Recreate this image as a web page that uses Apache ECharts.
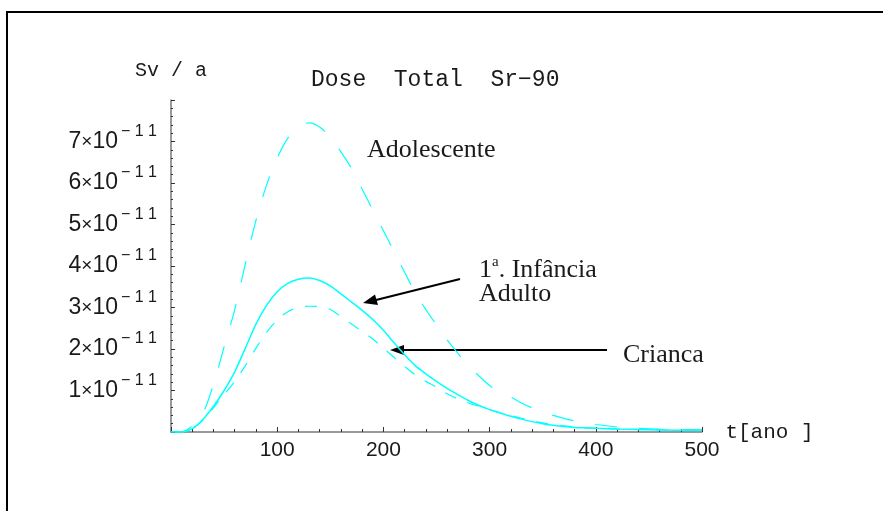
<!DOCTYPE html>
<html>
<head>
<meta charset="utf-8">
<script src="https://cdn.jsdelivr.net/npm/echarts@6/dist/echarts.min.js"></script>
<style>html,body{margin:0;padding:0;background:#fff}#c{width:883px;height:511px}</style>
</head>
<body>
<div id="c"></div>
<script>
// time (years)
var tAno = [0,10,20,30,40,50,60,70,80,90,100,110,120,130,140,150,160,170,180,190,200,210,220,230,240,250,260,270,280,290,300,310,320,330,340,350,360,370,380,390,400,420,440,460,480,500];
// dose values in units of 1e-11 Sv/a
var doseAdolescente = [0,0,0.15,0.45,1.15,2.05,2.95,4.05,5.1,5.95,6.6,7.08,7.36,7.45,7.35,7.1,6.75,6.35,5.85,5.35,4.85,4.35,3.85,3.35,2.95,2.58,2.22,1.9,1.6,1.35,1.12,0.95,0.84,0.7,0.58,0.48,0.4,0.33,0.27,0.22,0.18,0.12,0.09,0.07,0.06,0.05];
var doseInfanciaAdulto = [0,0,0.08,0.3,0.62,1.0,1.45,2.02,2.6,3.05,3.38,3.58,3.68,3.71,3.65,3.52,3.33,3.13,2.93,2.71,2.45,2.15,1.86,1.6,1.4,1.22,1.05,0.9,0.76,0.64,0.54,0.46,0.38,0.31,0.25,0.2,0.16,0.13,0.11,0.1,0.09,0.07,0.06,0.05,0.04,0.04];
var doseCrianca = [0,0,0.08,0.28,0.58,0.9,1.22,1.6,2.02,2.4,2.7,2.9,3.0,3.03,3.02,2.95,2.78,2.6,2.42,2.24,2.02,1.8,1.58,1.38,1.22,1.08,0.92,0.8,0.7,0.62,0.54,0.46,0.4,0.33,0.27,0.22,0.18,0.15,0.12,0.1,0.09,0.07,0.06,0.05,0.04,0.04];
var yTickValues = [1,2,3,4,5,6,7];
var xTickLabels = [100,200,300,400,500];

function pairs(ys){ return tAno.map(function(t,i){ return [t, ys[i]]; }); }

var chart = echarts.init(document.getElementById('c'), null, {renderer:'canvas'});
var txt = '#1a1a1a';
var cyan = '#00ffff';
var option = {
  backgroundColor: '#ffffff',
  animation: false,
  title: {
    text: 'Dose  Total  Sr\u221290',
    left: 306, top: 63,
    textStyle: {fontFamily: 'Liberation Mono', fontWeight: 'normal', fontSize: 23, color: txt}
  },
  grid: {left: 171, right: 181, top: 100, bottom: 79},
  xAxis: {
    type: 'value', min: 0, max: 500, interval: 100,
    name: 't[ano ]', nameLocation: 'end', nameGap: 23,
    nameTextStyle: {fontFamily: 'Liberation Mono', fontSize: 21, color: txt, verticalAlign: 'middle'},
    axisLine: {lineStyle: {color: '#7a7a7a', width: 1.5}},
    axisTick: {inside: true, length: 5, lineStyle: {color: '#333'}},
    minorTick: {show: true, splitNumber: 5, length: 3, lineStyle: {color: '#333'}},
    splitLine: {show: false},
    axisLabel: {
      showMinLabel: false, margin: 8,
      fontFamily: 'Liberation Sans', fontSize: 21, color: txt,
      formatter: function(v){ return xTickLabels.indexOf(v) >= 0 ? String(v) : ''; }
    }
  },
  yAxis: {
    type: 'value', min: 0, max: 8, interval: 1,
    name: 'Sv / a', nameLocation: 'end', nameGap: 19,
    nameTextStyle: {fontFamily: 'Liberation Mono', fontSize: 20, color: txt},
    axisLine: {lineStyle: {color: '#7a7a7a', width: 1.5}},
    axisTick: {inside: true, length: 4, lineStyle: {color: '#333'}},
    minorTick: {show: true, splitNumber: 5, length: 2, lineStyle: {color: '#333'}},
    splitLine: {show: false},
    axisLabel: {
      showMinLabel: false, showMaxLabel: false, margin: 14,
      formatter: function(v){
        if (yTickValues.indexOf(v) < 0) return '';
        return '{n|' + v + '}{x|\u00d7}{n|10}{s|\u2212 1 1}';
      },
      rich: {
        n: {fontFamily: 'Liberation Sans', fontSize: 23, color: txt, lineHeight: 36},
        x: {fontFamily: 'Liberation Sans', fontSize: 19, color: txt, lineHeight: 36},
        s: {fontFamily: 'Liberation Sans', fontSize: 16, color: txt, lineHeight: 14, verticalAlign: 'top', padding: [0,0,0,3]}
      }
    }
  },
  series: [
    {name: 'Adolescente', type: 'line', data: pairs(doseAdolescente), showSymbol: false, smooth: 0.3,
     lineStyle: {color: cyan, width: 1.2, type: [22, 22]}},
    {name: '1\u00aa. Inf\u00e2ncia / Adulto', type: 'line', data: pairs(doseInfanciaAdulto), showSymbol: false, smooth: 0.3,
     lineStyle: {color: cyan, width: 1.5}},
    {name: 'Crianca', type: 'line', data: pairs(doseCrianca), showSymbol: false, smooth: 0.3,
     lineStyle: {color: cyan, width: 1.2, type: [12, 12]}}
  ],
  graphic: [
    {type: 'rect', shape: {x: 7, y: 12, width: 900, height: 520}, style: {fill: 'none', stroke: '#000', lineWidth: 2}, silent: true},
    {type: 'text', x: 367, y: 150, style: {text: 'Adolescente', font: '26px "Liberation Serif"', fill: txt, textVerticalAlign: 'middle'}},
    {type: 'text', x: 479, y: 270, style: {
      text: '{n|1}{s|a}{n|. Inf\u00e2ncia}', fill: txt, textVerticalAlign: 'middle',
      rich: {n: {fontFamily: 'Liberation Serif', fontSize: 26, lineHeight: 30}, s: {fontFamily: 'Liberation Serif', fontSize: 15, lineHeight: 16, verticalAlign: 'top'}}
    }},
    {type: 'text', x: 479, y: 294, style: {text: 'Adulto', font: '26px "Liberation Serif"', fill: txt, textVerticalAlign: 'middle'}},
    {type: 'text', x: 623, y: 355, style: {text: 'Crianca', font: '26px "Liberation Serif"', fill: txt, textVerticalAlign: 'middle'}},
    {type: 'line', shape: {x1: 460, y1: 279, x2: 376, y2: 300}, style: {stroke: '#000', lineWidth: 2}},
    {type: 'polygon', shape: {points: [[363, 303], [378, 305], [375, 294.5]]}, style: {fill: '#000'}},
    {type: 'line', shape: {x1: 607, y1: 350, x2: 402, y2: 350}, style: {stroke: '#000', lineWidth: 2}},
    {type: 'polygon', shape: {points: [[390, 350], [404, 345], [404, 355]]}, style: {fill: '#000'}}
  ]
};
chart.setOption(option);
</script>
</body>
</html>
